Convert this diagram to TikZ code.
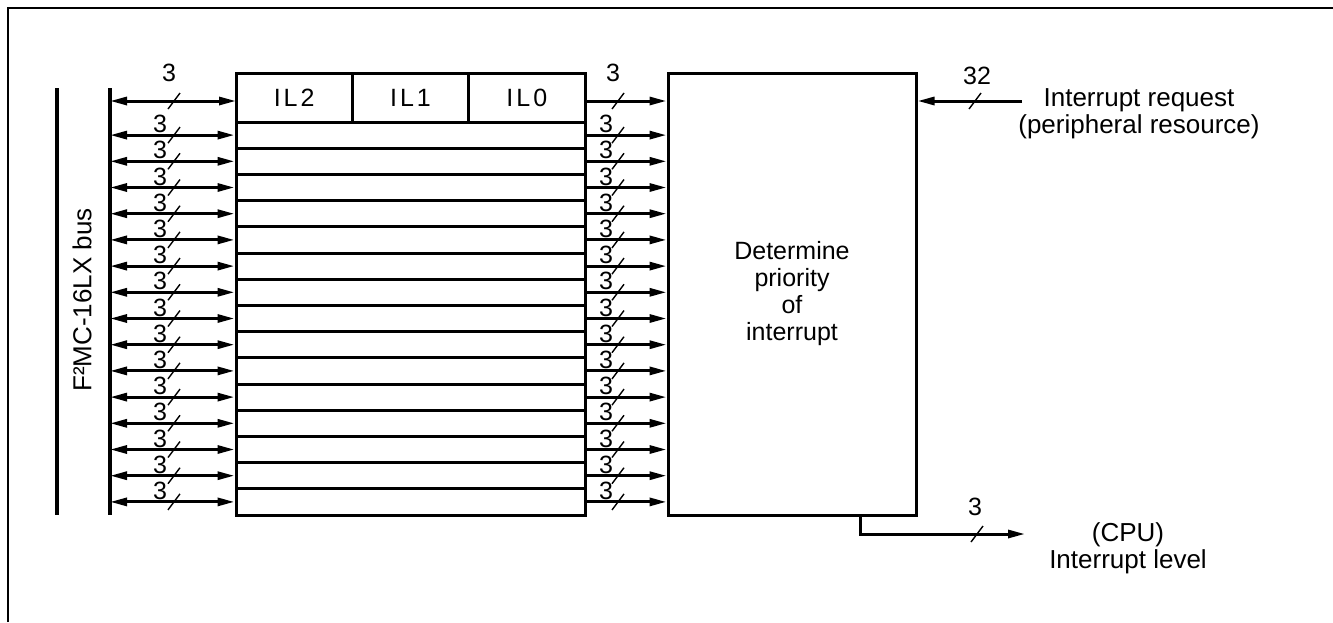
\documentclass[tikz,border=0pt]{standalone}
\usepackage{fontspec}
\setmainfont{Liberation Sans}
\usetikzlibrary{arrows.meta,calc}
\begin{document}
\begin{tikzpicture}[x=0.5pt,y=-0.5pt,
  frame/.style={line width=1.3pt},
  busline/.style={line width=1.6pt},
  cell/.style={draw,line width=1.5pt,minimum width=58.17pt,minimum height=24.5pt,inner sep=0pt,font=\fontsize{12.5}{14}\selectfont\addfontfeature{LetterSpace=12}},
  regrow/.style={draw,line width=1.5pt,minimum width=174.5pt,minimum height=13.1pt,inner sep=0pt},
  tipA/.tip={Triangle[length=8.5pt,width=4pt]},
  darr/.style={tipA-tipA,line width=1.5pt},
  arr/.style={-tipA,line width=1.5pt},
  slashmark/.style={line width=0.7pt},
  num/.style={inner sep=0pt,font=\fontsize{12.5}{14}\selectfont},
  txt/.style={inner sep=0pt,align=center,font=\fontsize{13}{13.5}\selectfont},
]
\useasboundingbox (0,0) rectangle (1333,622);
% frame
\draw[frame] (8,622) -- (8,8) -- (1333,8);
% bus lines
\coordinate (busA) at (57,300);
\coordinate (busB) at (110,300);
\draw[busline] (57,88) -- (57,515);
\draw[busline] (110,88) -- (110,515);
\node[txt,rotate=90] (buslbl) at (82,300) {F²MC-16LX bus};
% register top row
\node[cell] (IL2) at (294.17,97.5) {IL2};
\node[cell] (IL1) at (410.5,97.5) {IL1};
\node[cell] (IL0) at (526.83,97.5) {IL0};
% priority box
\node[draw,line width=1.5pt,minimum width=124pt,minimum height=221pt,inner sep=0pt,txt,font=\fontsize{12.5}{13.5}\selectfont] (prio) at (792,294) {Determine\\priority\\of\\interrupt};
% top row connectors
\coordinate (a0l) at (236,101);
\coordinate (a0r) at (585,101);
\draw[darr] (busB |- a0l) -- (a0l);
\draw[arr] (a0r) -- (prio.west |- a0r);
\draw[slashmark] (168,109) -- (180,93);
\draw[slashmark] (612,109) -- (624,93);
\node[num] (n0l) at (169,73) {3};
\node[num] (n0r) at (613,73) {3};
% register rows
\foreach \k in {1,...,15}{
  \pgfmathsetmacro{\yc}{135.1+26.2*(\k-1)}
  \node[regrow] (r\k) at (410.5,\yc) {};
  \draw[darr] (busB |- r\k.west) -- (r\k.west);
  \draw[arr] (r\k.east) -- (prio.west |- r\k.east);
  \draw[slashmark] (168,\yc+8) -- (180,\yc-8);
  \draw[slashmark] (612,\yc+8) -- (624,\yc-8);
  \node[num] (nl\k) at (160,\yc-11) {3};
  \node[num] (nr\k) at (606,\yc-11) {3};
}
% interrupt request
\coordinate (irq) at (1022,101);
\draw[arr] (irq) -- (prio.east |- irq);
\draw[slashmark] (969,109) -- (981,93);
\node[num] (n32) at (977,76) {32};
\node[txt] (irqlbl) at (1139,114) {Interrupt request\\(peripheral resource)};
% output
\coordinate (outb) at (860,515);
\coordinate (outc) at (860,534);
\coordinate (oute) at (1025,534);
\draw[arr] (outb) -- (outc) -- (oute);
\draw[slashmark] (971,542) -- (983,526);
\node[num] (nout) at (975,507) {3};
\node[txt] (cpulbl) at (1128,548) {(CPU)\\Interrupt level};
\end{tikzpicture}
\end{document}
